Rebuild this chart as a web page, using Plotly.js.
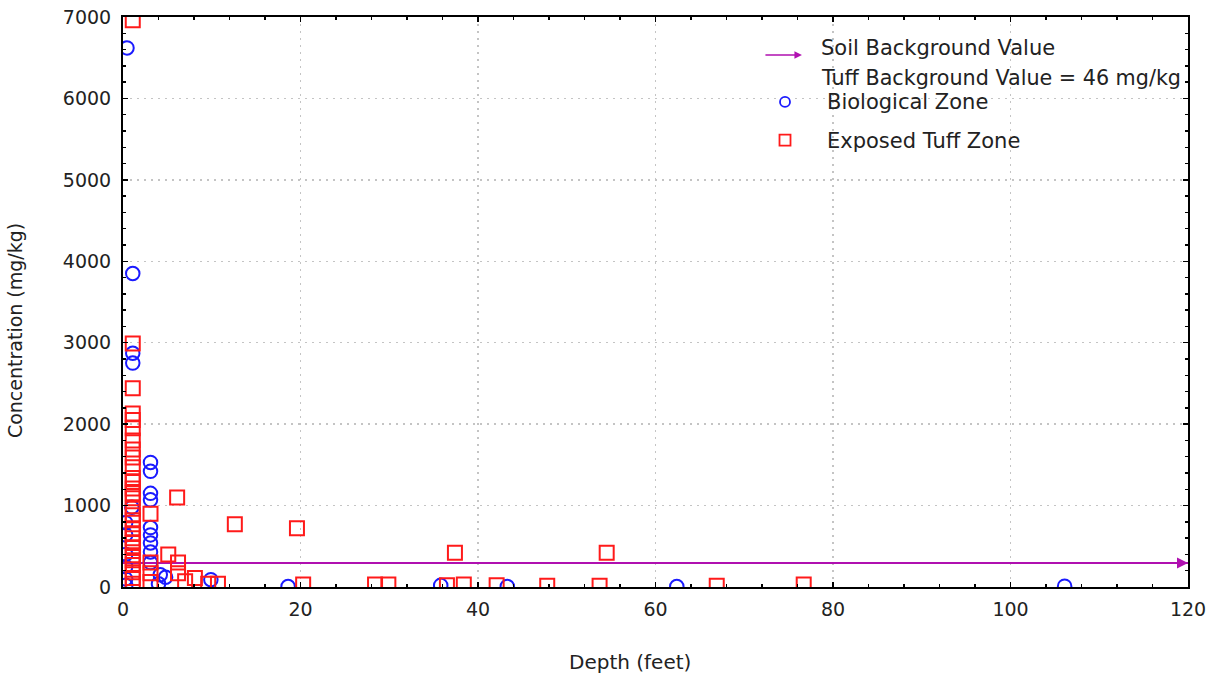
<!DOCTYPE html>
<html>
<head>
<meta charset="utf-8">
<script src="https://cdn.plot.ly/plotly-3.0.1.min.js"></script>
<style>
  html, body { margin: 0; padding: 0; background: #fff; }
  #chart { width: 1214px; height: 676px; }
</style>
</head>
<body>
<div id="chart"></div>
<script>
// Biological zone samples: depth (feet) and concentration (mg/kg)
const bioDepth = [0.45, 1.1, 1.1, 1.1, 1.0, 0.3, 0.3, 0.3, 0.3, 0.3, 0.3,
                  3.1, 3.1, 3.1, 3.1, 3.1, 3.1, 3.1, 3.1, 3.1,
                  4.2, 4.8, 4.0, 9.9, 18.6, 35.8, 43.3, 62.4, 106.1];
const bioConc  = [6620, 3850, 2870, 2750, 980, 790, 640, 400, 250, 100, 20,
                  1530, 1420, 1150, 1070, 730, 640, 540, 430, 300,
                  150, 120, 40, 90, 5, 20, 5, 5, 10];

// Exposed tuff zone samples
const tuffDepth = [1.1, 1.1, 1.1, 1.1, 1.1, 1.1, 1.1, 1.1, 1.1, 1.1, 1.1, 1.1,
                   1.1, 1.1, 1.1, 1.1, 1.1, 1.1, 1.1, 1.1, 1.1, 1.1, 1.1,
                   1.1, 1.1, 1.1, 1.1, 1.1, 1.1,
                   3.1, 3.1, 3.1, 3.1,
                   5.1, 6.1, 6.2, 6.2, 7.0, 8.1, 9.6, 10.7, 12.6, 19.6,
                   20.3, 28.4, 29.9, 36.5, 37.4, 38.4, 42.1, 47.8, 53.7, 54.5, 66.9, 76.7];
const tuffConc  = [6960, 2990, 2440, 2130, 2050, 1950, 1800, 1690, 1590, 1470, 1340, 1290,
                   1210, 1150, 1090, 960, 880, 820, 720, 660, 600, 540, 480,
                   390, 330, 270, 180, 110, 40,
                   900, 300, 170, 60,
                   400, 1100, 300, 170, 70, 110, 40, 40, 770, 720,
                   30, 30, 30, 20, 420, 30, 20, 15, 15, 420, 15, 30];

// Reference levels
const soilBackground = 295;
const soilLineDepth = [0, 120];
const tuffBackground = 46;

const xTicks = [0, 20, 40, 60, 80, 100, 120];
const yTicks = [0, 1000, 2000, 3000, 4000, 5000, 6000, 7000];

const FONT = 'DejaVu Sans, Liberation Sans, Arial, sans-serif';
const TEXT = '#222';
const PURPLE = '#b010b0';

const traces = [
  {
    x: soilLineDepth,
    y: soilLineDepth.map(() => soilBackground),
    mode: 'lines',
    line: { color: PURPLE, width: 2 },
    hoverinfo: 'skip',
    showlegend: false
  },
  {
    x: bioDepth, y: bioConc,
    mode: 'markers', name: 'Biological Zone',
    marker: { symbol: 'circle-open', size: 13.5, color: '#1a1aff', line: { width: 2 } },
    showlegend: false
  },
  {
    x: tuffDepth, y: tuffConc,
    mode: 'markers', name: 'Exposed Tuff Zone',
    marker: { symbol: 'square-open', size: 14, color: '#ff1a1a', line: { width: 2 } },
    showlegend: false
  }
];

const axisCommon = {
  showline: true, linecolor: '#000', linewidth: 2, mirror: 'allticks',
  ticks: 'inside', ticklen: 5, tickwidth: 1.5, tickcolor: '#000',
  showgrid: true, gridcolor: '#c4c4c4', griddash: '2px,5px', gridwidth: 1.5,
  zeroline: false,
  tickfont: { family: FONT, size: 19, color: TEXT }
};

const layout = {
  width: 1214, height: 676,
  margin: { l: 123, r: 26, t: 17, b: 89 },
  paper_bgcolor: '#fff', plot_bgcolor: '#fff',
  showlegend: false,
  xaxis: Object.assign({}, axisCommon, {
    range: [0, 120], tickvals: xTicks, ticktext: xTicks.map(String),
    minor: { dtick: 4, tick0: 0, ticks: 'inside', ticklen: 3, tickcolor: '#000', showgrid: false },
    ticklabelstandoff: 4
  }),
  yaxis: Object.assign({}, axisCommon, {
    range: [0, 7000], tickvals: yTicks, ticktext: yTicks.map(String),
    minor: { dtick: 200, tick0: 0, ticks: 'inside', ticklen: 3, tickcolor: '#000', showgrid: false },
    ticklabelstandoff: 6
  }),
  shapes: [
    // clear area behind the key
    { type: 'rect', xref: 'paper', yref: 'paper', x0: 0.6498, x1: 0.997, y0: 0.847, y1: 0.997,
      fillcolor: '#fff', line: { width: 0 }, layer: 'between' },
    // key symbols
    { type: 'circle', xref: 'paper', yref: 'paper', xsizemode: 'pixel', ysizemode: 'pixel',
      xanchor: 0.6216, yanchor: 0.851, x0: -5, x1: 5, y0: -5, y1: 5,
      line: { color: '#1a1aff', width: 1.8 }, fillcolor: 'rgba(0,0,0,0)' },
    { type: 'rect', xref: 'paper', yref: 'paper', xsizemode: 'pixel', ysizemode: 'pixel',
      xanchor: 0.6216, yanchor: 0.784, x0: -5.5, x1: 5.5, y0: -5.5, y1: 5.5,
      line: { color: '#ff1a1a', width: 1.8 }, fillcolor: 'rgba(0,0,0,0)' }
  ],
  annotations: [
    // axis titles
    { x: 0.476, y: -0.1316, xref: 'paper', yref: 'paper', xanchor: 'center', yanchor: 'middle',
      showarrow: false, text: 'Depth (feet)', font: { family: FONT, size: 20, color: TEXT } },
    { x: -0.1014, y: 0.449, xref: 'paper', yref: 'paper', xanchor: 'center', yanchor: 'middle',
      textangle: -90, showarrow: false, text: 'Concentration (mg/kg)',
      font: { family: FONT, size: 19, color: TEXT } },
    // arrowhead at the end of the soil background line
    { x: 120, y: soilBackground, xref: 'x', yref: 'y', axref: 'pixel', ayref: 'pixel',
      ax: -16, ay: 0, showarrow: true, arrowhead: 2, arrowsize: 1.1, arrowwidth: 2,
      arrowcolor: PURPLE, text: '' },
    // key entries
    { x: 0.6375, y: 0.9333, xref: 'paper', yref: 'paper', axref: 'pixel', ayref: 'pixel',
      ax: -38, ay: 0, showarrow: true, arrowhead: 2, arrowsize: 1, arrowwidth: 1.5,
      arrowcolor: PURPLE, text: '' },
    { x: 0.6535, y: 0.9456, xref: 'paper', yref: 'paper', xanchor: 'left', yanchor: 'middle',
      showarrow: false, text: 'Soil Background Value', font: { family: FONT, size: 21, color: TEXT } },
    { x: 0.6535, y: 0.893, xref: 'paper', yref: 'paper', xanchor: 'left', yanchor: 'middle',
      showarrow: false, text: 'Tuff Background Value = ' + tuffBackground + ' mg/kg',
      font: { family: FONT, size: 20.7, color: TEXT } },
    { x: 0.659, y: 0.851, xref: 'paper', yref: 'paper', xanchor: 'left', yanchor: 'middle',
      showarrow: false, text: 'Biological Zone', font: { family: FONT, size: 21, color: TEXT } },
    { x: 0.659, y: 0.782, xref: 'paper', yref: 'paper', xanchor: 'left', yanchor: 'middle',
      showarrow: false, text: 'Exposed Tuff Zone', font: { family: FONT, size: 21, color: TEXT } }
  ]
};

Plotly.newPlot('chart', traces, layout, { staticPlot: true, displayModeBar: false });
</script>
</body>
</html>
